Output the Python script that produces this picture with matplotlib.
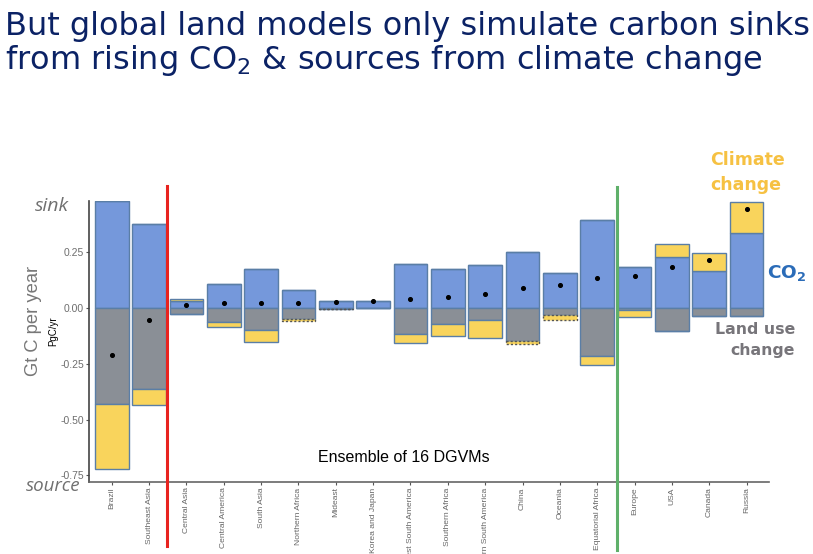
import matplotlib
matplotlib.use('Agg')
import matplotlib.pyplot as plt

W, H = 813, 554

regions = ['Brazil', 'Southeast Asia', 'Central Asia', 'Central America', 'South Asia',
           'Northern Africa', 'Mideast', 'Korea and Japan', 'Southwest South America',
           'Southern Africa', 'Northern South America', 'China', 'Oceania',
           'Equatorial Africa', 'Europe', 'USA', 'Canada', 'Russia']

# stacked from zero: co2 then climate going up, land use then climate going down
co2 = [0.48, 0.379, 0.031, 0.108, 0.175, 0.082, 0.031, 0.031, 0.198,
       0.177, 0.195, 0.251, 0.157, 0.395, 0.184, 0.229, 0.166, 0.338]
climate_up = [0, 0, 0.009, 0, 0, 0, 0, 0, 0,
              0, 0, 0, 0, 0, 0, 0.060, 0.083, 0.138]
land_use = [-0.43, -0.364, -0.024, -0.064, -0.096, -0.05, -0.002, 0, -0.118,
            -0.073, -0.052, -0.147, -0.03, -0.214, -0.006, -0.103, -0.033, -0.033]
climate_down = [-0.29, -0.07, 0, -0.021, -0.054, -0.008, -0.002, 0, -0.036,
                -0.051, -0.08, -0.015, -0.024, -0.043, -0.033, 0, 0, 0]
net = [-0.208, -0.055, 0.016, 0.022, 0.024, 0.025, 0.027, 0.031, 0.043,
       0.052, 0.063, 0.09, 0.103, 0.136, 0.145, 0.186, 0.214, 0.445]
yticks = [-0.75, -0.50, -0.25, 0.00, 0.25]
dotted = ['Northern Africa', 'Mideast', 'China', 'Oceania']

BLUE = '#7598DB'
GREY = '#8A8F96'
YELLOW = '#F9D45C'
EDGE = '#5A7EA6'
SANS = ['Liberation Sans', 'DejaVu Sans']

fig = plt.figure(figsize=(W / 100, H / 100), dpi=100)
plt.rcParams['mathtext.default'] = 'regular'


def put(x, y, s, **kw):
    # x, y in image pixels from the top left
    fig.text(x / W, 1 - y / H, s, **kw)


ax = fig.add_axes([89.3 / W, 1 - 482 / H, (769 - 89.3) / W, (482 - 201) / H])
pos = list(range(len(regions)))
bw = 0.9

ax.bar(pos, co2, bw, color=BLUE, edgecolor=EDGE, linewidth=1)
ax.bar(pos, climate_up, bw, bottom=co2, color=YELLOW, edgecolor=EDGE, linewidth=1)
ax.bar(pos, land_use, bw, color=GREY, edgecolor=EDGE, linewidth=1)
down = ax.bar(pos, climate_down, bw, bottom=land_use, color=YELLOW, edgecolor=EDGE, linewidth=1)
for name, patch in zip(regions, down):
    if name in dotted:
        patch.set_linestyle((0, (1.5, 1.5)))
        patch.set_edgecolor('#555555')
ax.scatter(pos, net, s=7, color='black', zorder=5)

ax.set_xlim(-0.6, 17.6)
ax.set_ylim(-0.78, 0.481)
ax.set_yticks(yticks)
ax.set_yticklabels(['%.2f' % v for v in yticks], fontsize=7.5, color='#6E6E6E', family=SANS)
ax.set_xticks(pos)
ax.set_xticklabels(regions, rotation=90, fontsize=6.1, color='#666666', family=SANS)
ax.tick_params(axis='both', length=2.4, width=0.8, color='#555555', pad=1.5)
ax.spines['top'].set_visible(False)
ax.spines['right'].set_visible(False)
ax.spines['left'].set_color('#444444')
ax.spines['bottom'].set_color('#666666')
ax.spines['left'].set_linewidth(1.2)
ax.spines['bottom'].set_linewidth(1.2)

# dividers run out of the axes on both ends
ax.plot([1.48, 1.48], [0.549, -1.067], color='#E8231F', lw=2.2, clip_on=False, zorder=6)
ax.plot([13.52, 13.52], [0.545, -1.085], color='#5FB06A', lw=2.2, clip_on=False, zorder=6)

navy = '#0B2265'
put(5, 27, 'But global land models only simulate carbon sinks', fontsize=23,
    color=navy, va='center')
put(5, 60, 'from rising CO$_2$ & sources from climate change', fontsize=23,
    color=navy, va='center')

put(35, 206, 'sink', fontsize=14, style='italic', color='#707070', va='center', family='Open Sans')
put(26, 486, 'source', fontsize=13.5, style='italic', color='#707070', va='center', family='Open Sans')
put(33, 321, 'Gt C per year', fontsize=13.2, rotation=90, color='#777777',
    ha='center', va='center', family=SANS)
put(53, 331, 'PgC/yr', fontsize=7, rotation=90, color='black',
    ha='center', va='center', family=SANS)
put(404, 457, 'Ensemble of 16 DGVMs', fontsize=11.5, color='black',
    ha='center', va='center', family=SANS)

put(747, 160, 'Climate', fontsize=12.5, weight='bold', color='#F6C142', ha='center', va='center')
put(746, 185, 'change', fontsize=12.5, weight='bold', color='#F6C142', ha='center', va='center')
put(767, 273, 'CO$_2$', fontsize=13.3, weight='bold', color='#2B6CB8', va='center')
put(795, 329, 'Land use', fontsize=11.3, weight='bold', color='#77757A', ha='right', va='center')
put(795, 351, 'change', fontsize=11.3, weight='bold', color='#77757A', ha='right', va='center')

fig.savefig('out.png', dpi=100)
